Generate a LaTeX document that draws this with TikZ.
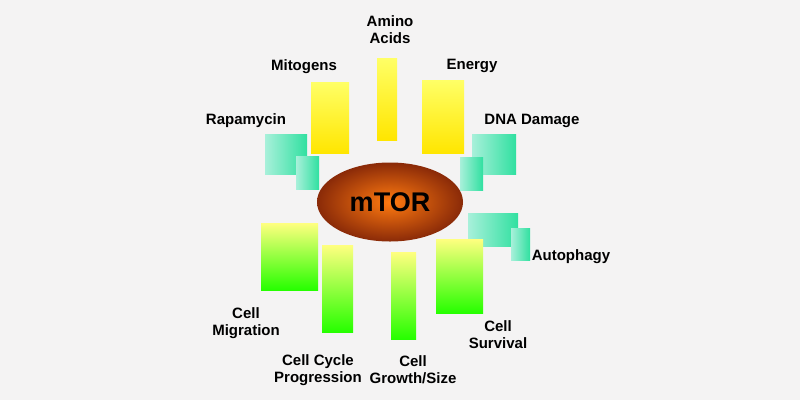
\documentclass[tikz,border=0pt]{standalone}
\usepackage{fontspec}
\setmainfont{Liberation Sans}
\usepackage{tikz}
\usetikzlibrary{shapes.geometric}
\definecolor{bgray}{HTML}{F4F3F3}
\definecolor{tealA}{HTML}{A8F0DA}
\definecolor{tealB}{HTML}{30E0A0}
\definecolor{mtorIn}{HTML}{FF7A10}
\definecolor{mtorOut}{HTML}{8A2A08}
\tikzset{%
  input/.style = {draw=none, top color=yellow!60!white, bottom color=yellow!80!orange},
  block/.style = {draw=none, shading=axis, shading angle=135,
      left color=tealA, right color=tealB},
  output/.style = {draw=none, top color=yellow!50!white, bottom color=green!85!yellow},
  lbl/.style = {font=\bfseries\fontsize{15}{17}\selectfont, align=center, text=black}
}
\newcommand{\bx}[6]{\node[#1, minimum width=#4-#2, minimum height=#5-#3, inner sep=0pt]
  (#6) at ({(#2+#4)/2},{(#3+#5)/2}) {};}
\begin{document}
\begin{tikzpicture}[x=1pt,y=-1pt]
\fill[bgray] (0,0) rectangle (800,400);
\useasboundingbox (0,0) rectangle (800,400);
% inputs
\bx{input}{377}{58}{397}{140}{amino}
\bx{input}{311}{82}{349}{153}{mitogens}
\bx{input}{422}{80}{464}{153}{energy}
% inhibitors
\bx{block}{265}{134}{307}{174}{rapaA}
\bx{block}{296}{156}{319}{189}{rapaB}
\bx{block}{472}{134}{516}{174}{dnaA}
\bx{block}{460}{157}{483}{190}{dnaB}
\bx{block}{468}{213}{518}{246}{autoA}
\bx{block}{511}{228}{530}{260}{autoB}
% outputs
\bx{output}{261}{223}{318}{290}{migration}
\bx{output}{322}{245}{353}{332}{cycle}
\bx{output}{391}{252}{416}{339}{growth}
\bx{output}{436}{239}{483}{313}{survival}
% mTOR
\node[ellipse, minimum width=146, minimum height=79, inner sep=0pt,
  inner color=mtorIn, outer color=mtorOut,
  font=\bfseries\fontsize{27}{30}\selectfont] (mtor) at (390,202) {mTOR};
% labels
\node[lbl] (lamino) at (390,30) {Amino\\Acids};
\node[lbl] (lmito) at (304,67) {Mitogens};
\node[lbl] (lenergy) at (472,66) {Energy};
\node[lbl] (lrapa) at (246,121) {Rapamycin};
\node[lbl] (ldna) at (532,121) {DNA Damage};
\node[lbl] (lauto) at (571,257) {Autophagy};
\node[lbl] (lmig) at (246,323) {Cell\\Migration};
\node[lbl] (lcyc) at (318,370) {Cell Cycle\\Progression};
\node[lbl] (lgrow) at (413,370) {Cell\\Growth/Size};
\node[lbl] (lsurv) at (498,335) {Cell\\Survival};
\end{tikzpicture}
\end{document}
